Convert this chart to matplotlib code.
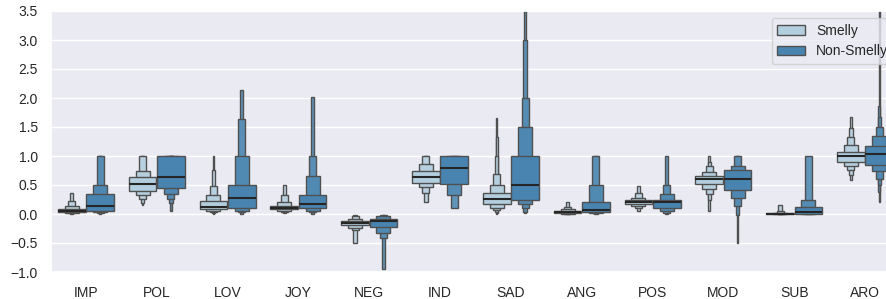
import matplotlib
matplotlib.use("Agg")
import matplotlib.pyplot as plt
import matplotlib.colors as mcolors
from matplotlib.patches import Patch
import numpy as np
import seaborn as sns

categories = ["IMP", "POL", "LOV", "JOY", "NEG", "IND", "SAD", "ANG", "POS", "MOD", "SUB", "ARO"]
hue_names = ["Smelly", "Non-Smelly"]

# letter values per group, innermost level (quartiles) first
smelly_median = [0.06, 0.52, 0.12, 0.10, -0.16, 0.64, 0.26, 0.03, 0.21, 0.60, 0.005, 1.00]
smelly_lower = [
    [0.03, 0.02, 0.01, 0.005],
    [0.40, 0.33, 0.26, 0.19, 0.15],
    [0.08, 0.05, 0.03, 0.01, 0.0],
    [0.08, 0.05, 0.03, 0.01],
    [-0.19, -0.24, -0.28, -0.50],
    [0.54, 0.46, 0.37, 0.20],
    [0.17, 0.11, 0.07, 0.04, 0.02, 0.0],
    [0.01, 0.005, 0.0, 0.0],
    [0.18, 0.14, 0.10, 0.05],
    [0.52, 0.43, 0.34, 0.25, 0.06],
    [0.0, 0.0, 0.0, 0.0],
    [0.89, 0.82, 0.76, 0.67, 0.59],
]
smelly_upper = [
    [0.09, 0.14, 0.22, 0.37],
    [0.63, 0.75, 1.0, 1.0, 1.0],
    [0.23, 0.33, 0.48, 0.76, 1.0],
    [0.14, 0.20, 0.33, 0.50],
    [-0.12, -0.08, -0.03, -0.01],
    [0.75, 0.87, 1.0, 1.0],
    [0.37, 0.50, 0.69, 1.0, 1.32, 1.66],
    [0.05, 0.08, 0.12, 0.20],
    [0.24, 0.28, 0.36, 0.49],
    [0.66, 0.73, 0.82, 0.90, 1.0],
    [0.01, 0.02, 0.05, 0.15],
    [1.07, 1.19, 1.32, 1.48, 1.68],
]

nonsmelly_median = [0.14, 0.64, 0.27, 0.17, -0.12, 0.80, 0.50, 0.07, 0.20, 0.60, 0.04, 1.03]
nonsmelly_lower = [
    [0.06, 0.04, 0.02, 0.01, 0.0],
    [0.45, 0.34, 0.26, 0.19, 0.06],
    [0.11, 0.06, 0.03, 0.0],
    [0.11, 0.05, 0.03, 0.0],
    [-0.22, -0.32, -0.42, -0.94],
    [0.51, 0.33, 0.10],
    [0.24, 0.18, 0.10, 0.04, 0.02],
    [0.03, 0.02, 0.01, 0.0],
    [0.11, 0.05, 0.02, 0.0],
    [0.41, 0.27, 0.14, -0.02, -0.50],
    [0.0, 0.0, 0.0],
    [0.85, 0.75, 0.60, 0.50, 0.38, 0.20],
]
nonsmelly_upper = [
    [0.34, 0.50, 1.0, 1.0, 1.0],
    [1.0, 1.0, 1.0, 1.0, 1.0],
    [0.50, 1.0, 1.63, 2.13],
    [0.33, 0.66, 1.0, 2.01],
    [-0.08, -0.03, -0.01, -0.01],
    [1.0, 1.0, 1.0],
    [1.0, 1.5, 2.0, 3.0, 3.6],
    [0.20, 0.50, 1.0, 1.0],
    [0.25, 0.34, 0.50, 1.0],
    [0.76, 0.83, 1.0, 1.0, 1.0],
    [0.12, 0.24, 1.0],
    [1.18, 1.34, 1.50, 1.68, 1.86, 3.6],
]

sns.set_theme(style="darkgrid")
plt.rcParams["font.family"] = ["Liberation Sans", "DejaVu Sans"]

base = [sns.desaturate(c, 0.75) for c in sns.color_palette("Blues", 2)]
gray = "#505050"

fig = plt.figure(figsize=(8.86, 2.99), dpi=100)
ax = fig.add_axes([50.5 / 886, 27 / 299, 850 / 886, 261 / 299])


def draw_boxen(x, median, lower, upper, color):
    light = sns.light_palette(mcolors.to_hex(color), as_cmap=True)(0.85)
    cmap = mcolors.LinearSegmentedColormap.from_list("lv", [color, light])
    n = len(lower)
    w0 = 0.392
    # outermost first so inner boxes sit on top
    for j in range(n - 1, -1, -1):
        w = w0 * 0.5 ** j
        c = cmap(j / max(n - 1, 1))
        ax.bar(x, upper[j] - lower[j], width=w, bottom=lower[j], color=c,
               edgecolor=gray, linewidth=1.0, zorder=2)
    ax.plot([x - w0 / 2, x + w0 / 2], [median, median], color=".15", lw=1.5,
            solid_capstyle="butt", zorder=3)


for i in range(len(categories)):
    draw_boxen(i - 0.2, smelly_median[i], smelly_lower[i], smelly_upper[i], base[0])
    draw_boxen(i + 0.2, nonsmelly_median[i], nonsmelly_lower[i], nonsmelly_upper[i], base[1])

ax.set_xlim(-0.5, len(categories) - 0.5)
ax.set_ylim(-1.0, 3.5)
ax.set_xticks(range(len(categories)))
ax.set_xticklabels(categories)
ax.set_yticks(np.arange(-1.0, 3.51, 0.5))
ax.tick_params(axis="both", labelsize=10, length=0, colors="#262626")
ax.tick_params(axis="x", pad=10)
ax.tick_params(axis="y", pad=9)
ax.xaxis.grid(False)

handles = [Patch(facecolor=base[k], edgecolor=gray, label=hue_names[k]) for k in range(2)]
ax.legend(handles=handles, loc="upper right", fontsize=10)

fig.savefig("out.png", dpi=100)
